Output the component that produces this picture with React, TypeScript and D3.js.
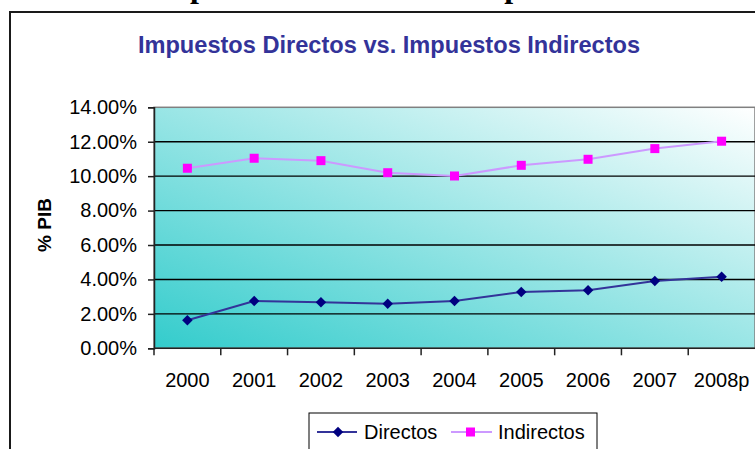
import { useEffect, useRef } from "react";
import * as d3 from "d3";

const years = ["2000", "2001", "2002", "2003", "2004", "2005", "2006", "2007", "2008p"];
const directos = [1.63, 2.75, 2.67, 2.59, 2.75, 3.27, 3.37, 3.91, 4.16];
const indirectos = [10.46, 11.04, 10.9, 10.2, 10.01, 10.63, 10.98, 11.6, 12.03];
const yTicks = [0, 2, 4, 6, 8, 10, 12, 14];

const SANS = "'Liberation Sans', Arial, sans-serif";

export default function App() {
  const ref = useRef<SVGSVGElement>(null);

  useEffect(() => {
    const el = ref.current;
    if (!el) return;
    const W = 755;
    const H = 449;
    const P = { left: 154, right: 755, top: 107.3, bottom: 348.3 };

    const svg = d3.select(el);
    svg.selectAll("*").remove();
    svg.attr("width", W).attr("height", H).attr("viewBox", `0 0 ${W} ${H}`);

    // clipped heading from the page above
    svg.append("text")
      .attr("x", 151).attr("y", -2.7)
      .style("font-family", "'Liberation Serif', 'Times New Roman', serif")
      .style("font-weight", "bold").style("font-size", "32px")
      .attr("fill", "#000")
      .text("Impuestos Directos vs. Impuestos Indirectos");

    // chart frame
    svg.append("rect")
      .attr("x", 10).attr("y", 12).attr("width", 800).attr("height", 500)
      .attr("fill", "#fff").attr("stroke", "#1a1a1a").attr("stroke-width", 2);

    svg.append("text")
      .attr("x", 389).attr("y", 53).attr("text-anchor", "middle")
      .style("font-family", SANS).style("font-weight", "bold").style("font-size", "23.6px")
      .attr("fill", "#333399")
      .text("Impuestos Directos vs. Impuestos Indirectos");

    const x = d3.scaleBand().domain(years).range([P.left, P.right]).padding(0);
    const y = d3.scaleLinear().domain([0, 14]).range([P.bottom, P.top]);
    const cx = (d: string) => (x(d) ?? 0) + x.bandwidth() / 2;

    // plot background
    const defs = svg.append("defs");
    const grad = defs.append("linearGradient").attr("id", "bg")
      .attr("x1", 0).attr("y1", 1).attr("x2", 1).attr("y2", 0);
    grad.append("stop").attr("offset", 0).attr("stop-color", "#33cccc");
    grad.append("stop").attr("offset", 1).attr("stop-color", "#ffffff");
    svg.append("rect")
      .attr("x", P.left).attr("y", P.top)
      .attr("width", P.right - P.left).attr("height", P.bottom - P.top)
      .attr("fill", "url(#bg)").attr("stroke", "#808080").attr("stroke-width", 1.5);

    // grid
    svg.append("g").selectAll("line")
      .data(yTicks.filter((t) => t > 0 && t < 14)).join("line")
      .attr("x1", P.left).attr("x2", P.right)
      .attr("y1", (d) => y(d)).attr("y2", (d) => y(d))
      .attr("stroke", "#000").attr("stroke-width", 1.4);

    // y axis
    svg.append("g")
      .attr("transform", `translate(${P.left},0)`)
      .call(d3.axisLeft(y).tickValues(yTicks).tickSizeOuter(0).tickSize(6).tickPadding(11)
        .tickFormat((v) => `${(+v).toFixed(2)}%`))
      .call((g) => g.select(".domain").attr("stroke", "#222").attr("stroke-width", 1.5))
      .call((g) => g.selectAll(".tick line").attr("stroke", "#222").attr("stroke-width", 1.5))
      .call((g) => g.selectAll(".tick text").attr("fill", "#000")
        .style("font-family", SANS).style("font-size", "20px"));

    // x axis
    const xa = svg.append("g");
    xa.append("line")
      .attr("x1", P.left).attr("x2", P.right).attr("y1", P.bottom).attr("y2", P.bottom)
      .attr("stroke", "#222").attr("stroke-width", 1.5);
    xa.selectAll("line.tk")
      .data(years).join("line").attr("class", "tk")
      .attr("x1", (d) => x(d) ?? 0).attr("x2", (d) => x(d) ?? 0)
      .attr("y1", P.bottom).attr("y2", P.bottom + 7)
      .attr("stroke", "#222").attr("stroke-width", 1.5);
    xa.selectAll("text")
      .data(years).join("text")
      .attr("x", cx).attr("y", 386.5).attr("text-anchor", "middle")
      .style("font-family", SANS).style("font-size", "20px").attr("fill", "#000")
      .text((d) => d);

    svg.append("text")
      .attr("transform", "translate(51,225) rotate(-90)")
      .attr("text-anchor", "middle")
      .style("font-family", SANS).style("font-weight", "bold").style("font-size", "19px")
      .attr("fill", "#000")
      .text("% PIB");

    const line = d3.line<number>().x((_, i) => cx(years[i])).y((d) => y(d));
    const diamond = d3.symbol().type(d3.symbolDiamond2).size(70);

    // Indirectos
    svg.append("path").attr("d", line(indirectos))
      .attr("fill", "none").attr("stroke", "#cc99ff").attr("stroke-width", 2);
    svg.append("g").selectAll("rect")
      .data(indirectos).join("rect")
      .attr("x", (_, i) => cx(years[i]) - 4.5).attr("y", (d) => y(d) - 4.5)
      .attr("width", 9).attr("height", 9).attr("fill", "#ff00ff");

    // Directos
    svg.append("path").attr("d", line(directos))
      .attr("fill", "none").attr("stroke", "#333399").attr("stroke-width", 2);
    svg.append("g").selectAll("path")
      .data(directos).join("path")
      .attr("transform", (d, i) => `translate(${cx(years[i])},${y(d)})`)
      .attr("d", diamond).attr("fill", "#000080");

    // legend
    const lg = svg.append("g");
    lg.append("rect").attr("x", 309).attr("y", 413).attr("width", 288).attr("height", 60)
      .attr("fill", "#fff").attr("stroke", "#000").attr("stroke-width", 1);
    lg.append("line").attr("x1", 317).attr("x2", 357).attr("y1", 432).attr("y2", 432)
      .attr("stroke", "#333399").attr("stroke-width", 2);
    lg.append("path").attr("transform", "translate(338,432)").attr("d", diamond).attr("fill", "#000080");
    lg.append("text").attr("x", 364).attr("y", 439)
      .style("font-family", SANS).style("font-size", "20px").attr("fill", "#000").text("Directos");
    lg.append("line").attr("x1", 451).attr("x2", 492).attr("y1", 432).attr("y2", 432)
      .attr("stroke", "#cc99ff").attr("stroke-width", 2);
    lg.append("rect").attr("x", 466).attr("y", 427.5).attr("width", 9).attr("height", 9).attr("fill", "#ff00ff");
    lg.append("text").attr("x", 498).attr("y", 439)
      .style("font-family", SANS).style("font-size", "20px").attr("fill", "#000").text("Indirectos");
  }, []);

  return (
    <div style={{ position: "absolute", left: 0, top: 0, width: 755, height: 449, overflow: "hidden" }}>
      <svg ref={ref} style={{ display: "block" }} />
    </div>
  );
}
